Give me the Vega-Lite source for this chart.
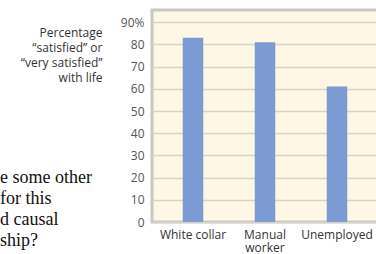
{
  "$schema": "https://vega.github.io/schema/vega-lite/v6.json",
  "width": 226,
  "height": 212,
  "autosize": "none",
  "padding": {"left": 152, "top": 10, "right": 0, "bottom": 32},
  "background": "white",
  "title": {
    "text": ["e some other", "\u00a0for this", "d causal", "ship?"],
    "anchor": "start",
    "frame": "group",
    "orient": "top",
    "offset": 0,
    "dx": -152,
    "dy": 254,
    "font": "Liberation Serif",
    "fontSize": 18,
    "fontWeight": "normal",
    "color": "#111111",
    "lineHeight": 21,
    "baseline": "alphabetic",
    "align": "left"
  },
  "data": {
    "values": [
      {"category": "White collar", "pct": 83},
      {"category": "Manual worker", "pct": 81},
      {"category": "Unemployed", "pct": 61}
    ]
  },
  "mark": {"type": "bar", "color": "#7B9BD2"},
  "encoding": {
    "x": {
      "field": "category",
      "type": "nominal",
      "sort": null,
      "scale": {"paddingInner": 0.715, "paddingOuter": 0.427},
      "axis": {
        "title": null,
        "labelAngle": 0,
        "ticks": false,
        "domain": false,
        "labelPadding": 7,
        "labelFont": "Open Sans",
        "labelFontSize": 12,
        "labelColor": "#333333",
        "labelLineHeight": 13,
        "labelExpr": "datum.value == 'Manual worker' ? ['Manual', 'worker'] : datum.value"
      }
    },
    "y": {
      "field": "pct",
      "type": "quantitative",
      "scale": {"domain": [0, 95.5], "nice": false},
      "axis": {
        "values": [0, 10, 20, 30, 40, 50, 60, 70, 80, 90],
        "labelExpr": "datum.value == 90 ? '90%' : datum.label",
        "ticks": false,
        "domain": false,
        "labelPadding": 8,
        "labelFont": "Open Sans",
        "labelFontSize": 12,
        "labelColor": "#555555",
        "gridColor": "#D6D3CC",
        "gridWidth": 1.5,
        "title": ["Percentage", "“satisfied” or", "“very satisfied”", "with life"],
        "titleAngle": 0,
        "titleAlign": "right",
        "titleBaseline": "alphabetic",
        "titleX": -50,
        "titleY": 26.7,
        "titleFont": "Open Sans",
        "titleFontSize": 12,
        "titleFontWeight": "normal",
        "titleLineHeight": 15,
        "titleColor": "#333333"
      }
    }
  },
  "config": {
    "view": {"fill": "#FEF7E6", "stroke": "#C9C7C2", "strokeWidth": 3}
  }
}
